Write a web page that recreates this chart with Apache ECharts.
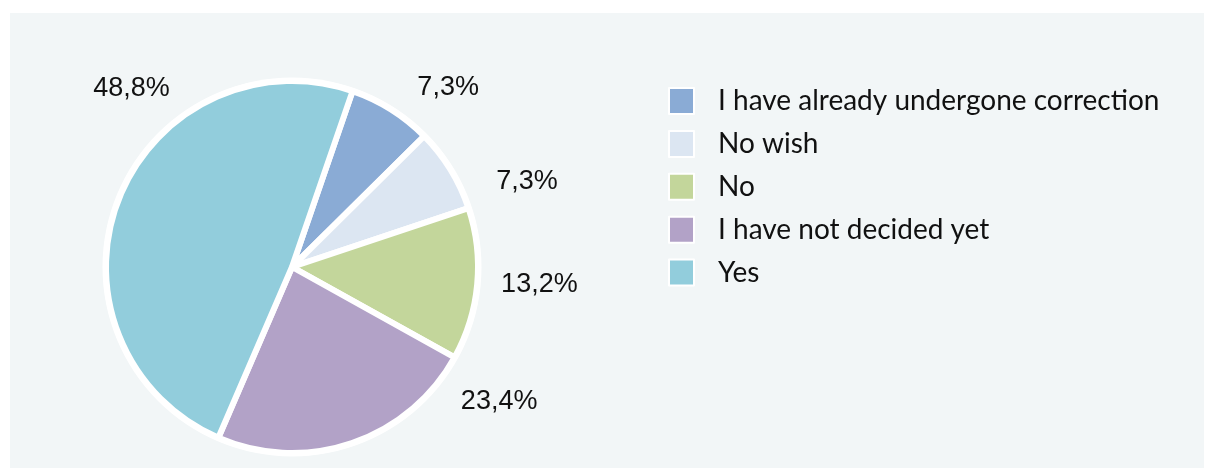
<!DOCTYPE html>
<html>
<head>
<meta charset="utf-8">
<script src="https://cdn.jsdelivr.net/npm/echarts@6/dist/echarts.min.js"></script>
<style>
  html, body { margin: 0; padding: 0; background: #ffffff; }
  #panel { position: absolute; left: 10px; top: 13px; width: 1194px; height: 455px; background: #f2f6f7; }
  #chart { position: absolute; left: 0; top: 0; width: 1205px; height: 471px; }
</style>
</head>
<body>
<div id="panel"></div>
<div id="chart"></div>
<script>
// Survey answers, in drawing order (clockwise from the top)
const categories = [
  'I have already undergone correction',
  'No wish',
  'No',
  'I have not decided yet',
  'Yes'
];
const shares = [7.3, 7.3, 13.2, 23.4, 48.8];
const sliceColors = ['#8aabd5', '#dce6f2', '#c3d69b', '#b2a2c7', '#92cddc'];

// Where each percentage label sits: angle clockwise from 12 o'clock, distance from centre
const labelAngles = [41, 70, 94, 123, 318];
const labelDistances = [238, 250, 248, 247, 240];

const CX = 292, CY = 267, R = 186;

const chart = echarts.init(document.getElementById('chart'), null, { renderer: 'canvas' });

const fmt = v => v.toFixed(1).replace('.', ',') + '%';

chart.setOption({
  animation: false,
  backgroundColor: 'transparent',
  legend: {
    orient: 'vertical',
    left: 668,
    top: 87,
    padding: 0,
    itemWidth: 25,
    itemHeight: 26,
    itemGap: 14.9,
    icon: 'rect',
    data: categories,
    textStyle: {
      fontFamily: 'Lato',
      fontSize: 28,
      color: '#111111',
      padding: [0, 0, 0, 19]
    },
    selectedMode: false
  },
  series: [
    {
      // white disc behind the slices, giving the pie its outer rim
      type: 'pie',
      name: 'rim',
      silent: true,
      center: [CX, CY],
      radius: R + 3.5,
      label: { show: false },
      labelLine: { show: false },
      itemStyle: { color: '#ffffff' },
      data: [{ name: '', value: 1 }],
      z: 1
    },
    {
      type: 'pie',
      name: 'answers',
      center: [CX, CY],
      radius: R,
      startAngle: 71,
      clockwise: true,
      z: 2,
      itemStyle: { borderColor: '#ffffff', borderWidth: 6 },
      label: {
        show: true,
        position: 'outside',
        overflow: 'none',
        edgeDistance: 0,
        formatter: p => fmt(p.value),
        fontFamily: 'Liberation Sans',
        fontSize: 27,
        color: '#111111'
      },
      labelLine: { show: false },
      labelLayout: params => {
        const i = params.dataIndex;
        const a = labelAngles[i] * Math.PI / 180;
        return {
          x: CX + labelDistances[i] * Math.sin(a),
          y: CY - labelDistances[i] * Math.cos(a),
          align: 'center',
          verticalAlign: 'middle'
        };
      },
      data: categories.map((c, i) => ({
        name: c,
        value: shares[i],
        itemStyle: { color: sliceColors[i] }
      }))
    }
  ]
});
</script>
</body>
</html>
